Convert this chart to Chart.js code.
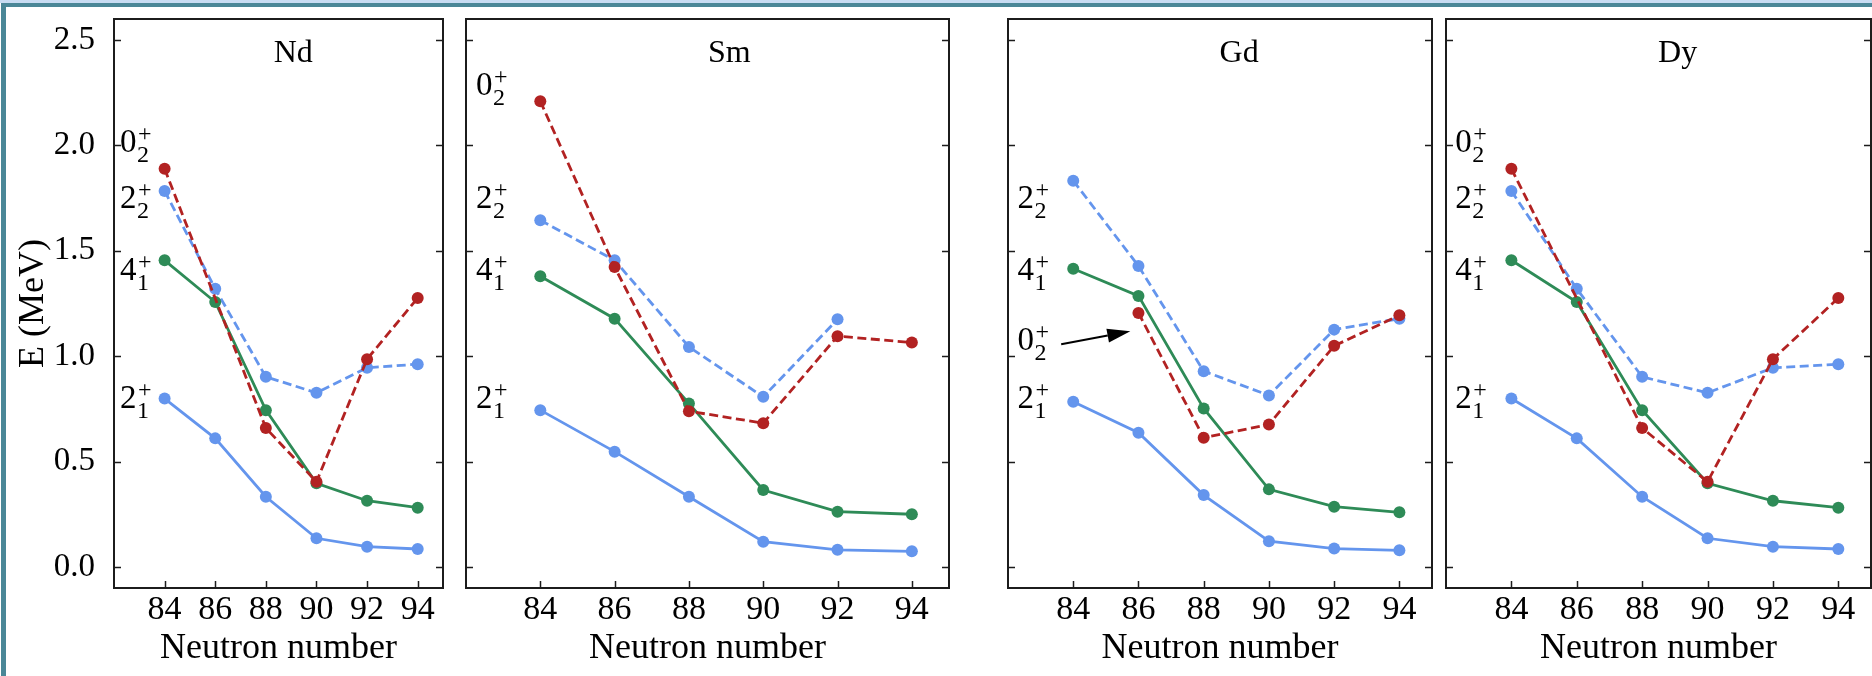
<!DOCTYPE html>
<html><head><meta charset="utf-8">
<script src="https://cdn.jsdelivr.net/npm/chart.js@4/dist/chart.umd.min.js"></script>
<style>
html,body{margin:0;padding:0;background:#fff;}
body{width:1872px;height:676px;position:relative;overflow:hidden;font-family:'Liberation Serif';}
#band{position:absolute;left:0;top:0;width:1872px;height:3px;background:#c8dcf2;}
#ftop{position:absolute;left:1px;top:3px;width:1871px;height:4px;background:#4a8797;}
#fleft{position:absolute;left:1px;top:3px;width:5px;height:673px;background:#4a8797;}
.wrap{position:absolute;top:0;height:676px;}
canvas{display:block;}
</style></head><body>
<div id="band"></div><div id="ftop"></div><div id="fleft"></div>
<div class="wrap" id="w0"><canvas id="c0"></canvas></div>
<div class="wrap" id="w1"><canvas id="c1"></canvas></div>
<div class="wrap" id="w2"><canvas id="c2"></canvas></div>
<div class="wrap" id="w3"><canvas id="c3"></canvas></div>
<script>
// ---------- data ----------
const neutronNumbers = [84, 86, 88, 90, 92, 94];
const xTicks = [84, 86, 88, 90, 92, 94];
const yTicks = [0, 0.5, 1.0, 1.5, 2.0, 2.5];
const panelNames = ['Nd', 'Sm', 'Gd', 'Dy'];

const nd_2p1 = [0.799, 0.610, 0.333, 0.136, 0.096, 0.085];
const nd_2p2 = [1.784, 1.320, 0.902, 0.826, 0.945, 0.962];
const nd_4p1 = [1.455, 1.257, 0.744, 0.397, 0.314, 0.281];
const nd_0p2 = [1.889, null, 0.659, 0.404, 0.986, 1.276];

const sm_2p1 = [0.744, 0.547, 0.333, 0.120, 0.081, 0.074];
const sm_2p2 = [1.645, 1.455, 1.044, 0.807, 1.175, null];
const sm_4p1 = [1.379, 1.178, 0.776, 0.365, 0.262, 0.250];
const sm_0p2 = [2.210, 1.423, 0.739, 0.682, 1.095, 1.065];

const gd_2p1 = [0.784, 0.637, 0.341, 0.122, 0.087, 0.079];
const gd_2p2 = [1.833, 1.428, 0.929, 0.814, 1.126, 1.178];
const gd_4p1 = [1.415, 1.286, 0.752, 0.368, 0.286, 0.259];
const gd_0p2 = [null, 1.205, 0.613, 0.676, 1.049, 1.194];

const dy_2p1 = [0.799, 0.610, 0.333, 0.136, 0.096, 0.085];
const dy_2p2 = [1.784, 1.320, 0.902, 0.826, 0.945, 0.962];
const dy_4p1 = [1.455, 1.257, 0.744, 0.397, 0.314, 0.281];
const dy_0p2 = [1.889, null, 0.659, 0.404, 0.986, 1.276];

// state labels (text annotations, in data coordinates)
const nd_labels = [
  {main: '0', sub: '2', x: 82.24, y: 1.967},
  {main: '2', sub: '2', x: 82.24, y: 1.701},
  {main: '4', sub: '1', x: 82.24, y: 1.360},
  {main: '2', sub: '1', x: 82.24, y: 0.754}
];
const sm_labels = [
  {main: '0', sub: '2', x: 82.27, y: 2.237},
  {main: '2', sub: '2', x: 82.27, y: 1.701},
  {main: '4', sub: '1', x: 82.27, y: 1.360},
  {main: '2', sub: '1', x: 82.27, y: 0.754}
];
const gd_labels = [
  {main: '2', sub: '2', x: 82.29, y: 1.701},
  {main: '4', sub: '1', x: 82.29, y: 1.360},
  {main: '0', sub: '2', x: 82.29, y: 1.028},
  {main: '2', sub: '1', x: 82.29, y: 0.754}
];
const dy_labels = [
  {main: '0', sub: '2', x: 82.28, y: 1.967},
  {main: '2', sub: '2', x: 82.28, y: 1.701},
  {main: '4', sub: '1', x: 82.28, y: 1.360},
  {main: '2', sub: '1', x: 82.28, y: 0.754}
];
const gd_arrow = {x0: 83.63, y0: 1.057, x1: 85.75, y1: 1.118};

// ---------- styling / layout ----------
const FONT = 'Liberation Serif';
const BLUE = '#6495ED', GREEN = '#2E8B57', RED = '#B22222';
const panelBoxes = [
  {left: 114, right: 443},
  {left: 466, right: 949},
  {left: 1008, right: 1432},
  {left: 1446, right: 1871}
];
const PLOT_TOP = 19, PLOT_BOTTOM = 588, H = 676;

const panels = [
  {s2p1: nd_2p1, s2p2: nd_2p2, s4p1: nd_4p1, s0p2: nd_0p2, labels: nd_labels, arrow: null},
  {s2p1: sm_2p1, s2p2: sm_2p2, s4p1: sm_4p1, s0p2: sm_0p2, labels: sm_labels, arrow: null},
  {s2p1: gd_2p1, s2p2: gd_2p2, s4p1: gd_4p1, s0p2: gd_0p2, labels: gd_labels, arrow: gd_arrow},
  {s2p1: dy_2p1, s2p2: dy_2p2, s4p1: dy_4p1, s0p2: dy_0p2, labels: dy_labels, arrow: null}
];

function pts(arr) { return neutronNumbers.map((n, k) => ({x: n, y: arr[k]})); }

function ds(label, arr, color, dashed) {
  return {
    label, data: pts(arr),
    borderColor: color, backgroundColor: color,
    pointBackgroundColor: color, pointBorderColor: color,
    borderWidth: 2.8, pointRadius: 6, pointBorderWidth: 0,
    borderDash: dashed ? [9, 4.5] : [],
    spanGaps: true, tension: 0
  };
}

const decorPlugin = {
  id: 'decor',
  afterDraw(chart) {
    const {ctx, chartArea: a, scales: {x, y}} = chart;
    const p = chart.options.plugins.decor;
    ctx.save();
    ctx.strokeStyle = '#1c1c1c';
    ctx.lineWidth = 2;
    ctx.strokeRect(a.left, a.top, a.right - a.left, a.bottom - a.top);
    ctx.lineWidth = 1.5;
    ctx.beginPath();
    yTicks.forEach(v => {
      const py = Math.round(y.getPixelForValue(v)) + 0.5;
      ctx.moveTo(a.left, py); ctx.lineTo(a.left + 7, py);
      ctx.moveTo(a.right, py); ctx.lineTo(a.right - 7, py);
    });
    xTicks.forEach(v => {
      const px = Math.round(x.getPixelForValue(v)) + 0.5;
      ctx.moveTo(px, a.bottom); ctx.lineTo(px, a.bottom - 7);
    });
    ctx.stroke();
    ctx.fillStyle = '#000';
    ctx.font = '32px "' + FONT + '"';
    ctx.textAlign = 'center';
    ctx.textBaseline = 'alphabetic';
    ctx.fillText(p.title, a.left + 0.545 * (a.right - a.left), a.top + 43);
    ctx.textAlign = 'left';
    p.labels.forEach(l => {
      const px = x.getPixelForValue(l.x), py = y.getPixelForValue(l.y);
      ctx.font = '33px "' + FONT + '"';
      ctx.fillText(l.main, px, py);
      const w = ctx.measureText(l.main).width;
      ctx.font = '24px "' + FONT + '"';
      ctx.fillText(l.sub, px + w + 0.5, py + 10);
      ctx.fillText('+', px + w + 1.5, py - 11);
    });
    if (p.arrow) {
      const x0 = x.getPixelForValue(p.arrow.x0), y0 = y.getPixelForValue(p.arrow.y0);
      const x1 = x.getPixelForValue(p.arrow.x1), y1 = y.getPixelForValue(p.arrow.y1);
      const ang = Math.atan2(y1 - y0, x1 - x0);
      const hl = 23, hw = 7;
      const bx = x1 - hl * Math.cos(ang), by = y1 - hl * Math.sin(ang);
      ctx.strokeStyle = '#000';
      ctx.lineWidth = 2;
      ctx.beginPath(); ctx.moveTo(x0, y0); ctx.lineTo(bx, by); ctx.stroke();
      ctx.fillStyle = '#000';
      ctx.beginPath();
      ctx.moveTo(x1, y1);
      ctx.lineTo(bx + hw * Math.sin(ang), by - hw * Math.cos(ang));
      ctx.lineTo(bx - hw * Math.sin(ang), by + hw * Math.cos(ang));
      ctx.closePath(); ctx.fill();
    }
    ctx.restore();
  }
};

function makeChart(i) {
  const box = panelBoxes[i];
  const first = i === 0;
  const padL = first ? 0 : 10, padR = 3;
  const canvasLeft = first ? 0 : box.left - padL;
  const width = box.right + padR - canvasLeft;
  const wrap = document.getElementById('w' + i);
  wrap.style.left = canvasLeft + 'px';
  wrap.style.width = width + 'px';
  const cv = document.getElementById('c' + i);
  cv.width = width; cv.height = H;
  cv.style.width = width + 'px'; cv.style.height = H + 'px';
  const P = panels[i];
  new Chart(cv, {
    type: 'line',
    data: {
      datasets: [
        ds('0_2^+', P.s0p2, RED, true),
        ds('4_1^+', P.s4p1, GREEN, false),
        ds('2_2^+', P.s2p2, BLUE, true),
        ds('2_1^+', P.s2p1, BLUE, false)
      ]
    },
    options: {
      responsive: false, animation: false, devicePixelRatio: 1,
      layout: {autoPadding: false, padding: {top: PLOT_TOP, right: padR, bottom: 0, left: padL}},
      plugins: {
        legend: {display: false}, tooltip: {enabled: false},
        decor: {title: panelNames[i], labels: P.labels, arrow: P.arrow}
      },
      scales: {
        x: {
          type: 'linear', min: 82, max: 95,
          afterBuildTicks: s => { s.ticks = xTicks.map(v => ({value: v})); },
          grid: {display: false}, border: {display: false},
          ticks: {font: {family: FONT, size: 34}, color: '#000', padding: -6,
                  maxRotation: 0, autoSkip: false, callback: v => String(v)},
          title: {display: true, text: 'Neutron number', color: '#000',
                  font: {family: FONT, size: 36}, padding: {top: 0, bottom: 6}},
          afterFit: s => { s.height = H - PLOT_BOTTOM; s.paddingLeft = 0; s.paddingRight = 0; }
        },
        y: {
          type: 'linear', min: -0.1, max: 2.6,
          afterBuildTicks: s => { s.ticks = yTicks.map(v => ({value: v})); },
          grid: {display: false}, border: {display: false},
          ticks: {display: first, font: {family: FONT, size: 33}, color: '#000', padding: 11,
                  callback: v => Number(v).toFixed(1)},
          title: {display: first, text: 'E (MeV)', color: '#000',
                  font: {family: FONT, size: 36}, padding: {top: 12, bottom: 0}},
          afterFit: s => { s.width = first ? box.left : 0; s.paddingTop = 0; s.paddingBottom = 0; }
        }
      }
    },
    plugins: [decorPlugin]
  });
}
function drawAll() { for (let i = 0; i < 4; i++) makeChart(i); }
if (document.fonts && document.fonts.load) {
  Promise.all([
    document.fonts.load('32px "Liberation Serif"'),
    document.fonts.load('35px "Liberation Serif"')
  ]).then(drawAll, drawAll);
} else { drawAll(); }
</script>
</body></html>
